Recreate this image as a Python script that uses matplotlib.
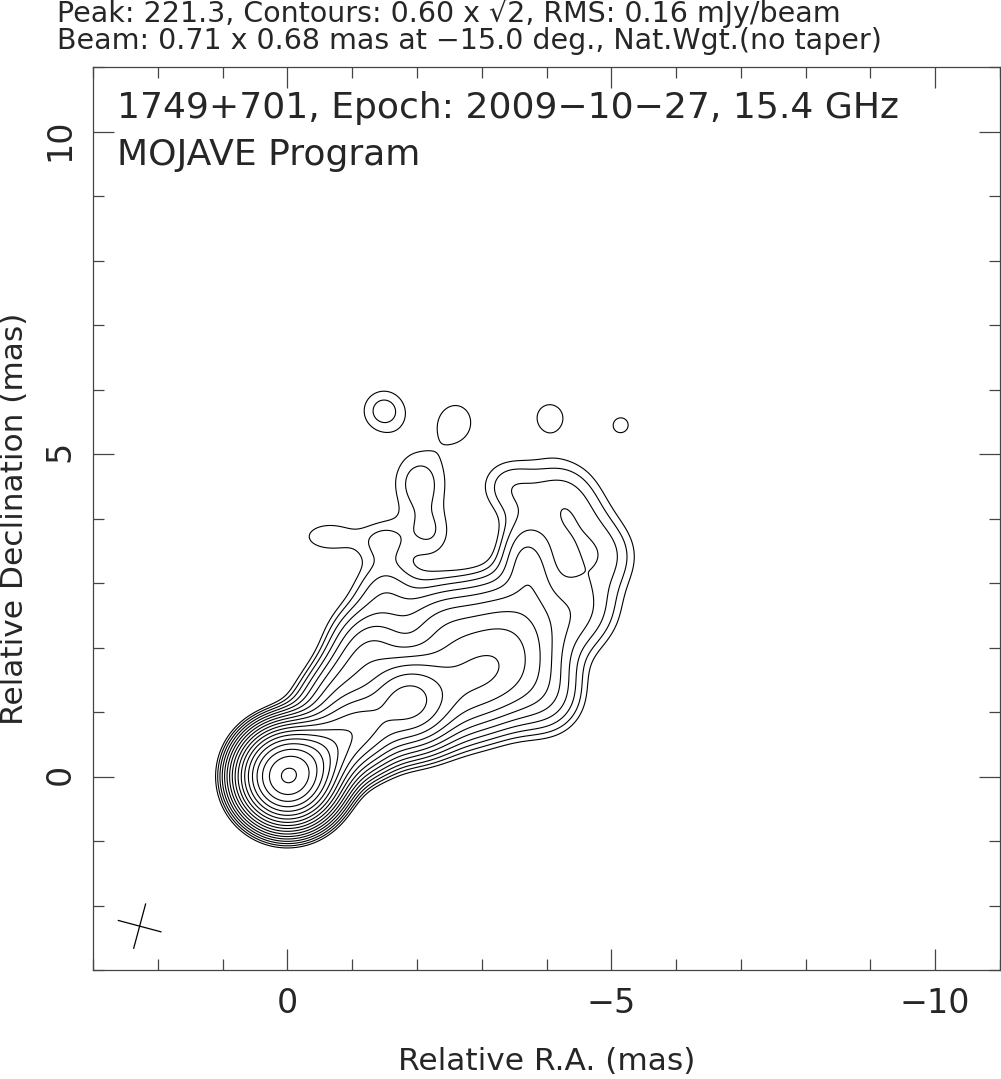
import numpy as np
import matplotlib
matplotlib.use("Agg")
import matplotlib.pyplot as plt
from matplotlib.ticker import MultipleLocator

# map header values
source = "1749+701"
epoch = "2009-10-27"
freq_ghz = 15.4
peak = 221.3          # mJy/beam
base_level = 0.60     # mJy/beam
rms = 0.16
beam_maj, beam_min, beam_pa = 0.71, 0.68, -15.0

# clean map described as gaussian blobs (already convolved with the beam)
# offsets in mas, peak in mJy/beam, FWHM in mas, PA in deg
blob_ra = [0.0, -0.45, -1.1, -1.85, -2.9, -3.4, -2.4, -3.7, -4.5, -4.4,
           -3.4, -4.0, -1.5, -2.04, -2.2, -0.65, -1.5,
           -0.9, -1.25, -4.2, -4.9,
           -1.49, -2.6, -4.05, -5.15]
blob_dec = [0.0, 0.3, 0.75, 1.15, 1.5, 2.3, 2.3, 3.3, 2.6, 3.8,
            4.5, 1.2, 2.9, 4.55, 3.75, 3.72, 3.65,
            1.5, 2.1, 4.4, 3.4,
            5.67, 5.5, 5.58, 5.45]
blob_peak = [215.0, 40.0, 18.0, 20.0, 9.0, 4.0, 3.0, 2.2, 1.6, 1.1,
             0.9, 1.5, 1.2, 1.0, 0.7, 0.75, 0.7,
             4.0, 2.5, 1.0, 0.95,
             0.98, 0.78, 0.72, 0.64]
blob_maj = [0.76, 0.9, 0.8, 0.9, 1.6, 1.2, 1.0, 1.0, 1.0, 1.1,
            0.8, 0.9, 0.8, 1.0, 0.7, 1.1, 0.6,
            1.4, 0.9, 1.0, 0.9,
            0.72, 0.8, 0.7, 0.7]
blob_min = [0.76, 0.7, 0.8, 0.9, 1.1, 1.2, 1.0, 0.6, 1.0, 1.1,
            0.8, 0.9, 0.8, 0.85, 0.7, 0.6, 0.6,
            0.7, 0.9, 1.0, 0.9,
            0.72, 0.72, 0.7, 0.7]
blob_pa = [0, -57, 0, 0, -70, 0, 0, 10, 0, 0,
           0, 0, 0, 0, 0, 90, 0,
           -45, 0, 0, 0,
           0, 0, 0, 0]

n_levels = 18

x = np.linspace(3, -11, 701)
y = np.linspace(-3, 11, 701)
X, Y = np.meshgrid(x, y)

img = np.zeros_like(X)
for ra, dec, p, a, b, pa in zip(blob_ra, blob_dec, blob_peak, blob_maj, blob_min, blob_pa):
    t = np.radians(pa)
    dx = X - ra
    dy = Y - dec
    u = dx * np.sin(t) + dy * np.cos(t)    # along major axis
    v = dx * np.cos(t) - dy * np.sin(t)
    img += p * np.exp(-4 * np.log(2) * ((u / a) ** 2 + (v / b) ** 2))

levels = base_level * np.sqrt(2) ** np.arange(n_levels)

plt.rcParams['font.family'] = ['DejaVu Sans']
txtc = '#262626'

fig = plt.figure(figsize=(10.01, 10.79), dpi=100)
ax = fig.add_axes([93 / 1001, 1 - 970 / 1079, 907 / 1001, 903 / 1079])
ax.contour(X, Y, img, levels=levels, colors='k', linewidths=0.8)
ax.set_xlim(3, -11)
ax.set_ylim(-3, 11)

# beam cross
for length, pa in [(beam_maj, beam_pa), (beam_min, beam_pa + 90)]:
    p = np.radians(pa)
    bx, by = 2.28, -2.32
    dx, dy = 0.5 * length * np.sin(p), 0.5 * length * np.cos(p)
    ax.plot([bx - dx, bx + dx], [by - dy, by + dy], color='k', lw=0.9)

ax.xaxis.set_major_locator(MultipleLocator(5))
ax.xaxis.set_minor_locator(MultipleLocator(1))
ax.yaxis.set_major_locator(MultipleLocator(5))
ax.yaxis.set_minor_locator(MultipleLocator(1))
ax.tick_params(which='both', direction='in', top=True, right=True,
               color='#444444', width=0.9)
ax.tick_params(which='major', length=15, labelsize=24, labelcolor=txtc, pad=12)
ax.tick_params(which='minor', length=8)
ax.tick_params(axis='y', labelrotation=90)
for sp in ax.spines.values():
    sp.set_color('#444444')
    sp.set_linewidth(0.9)

ax.set_xlabel('Relative R.A. (mas)', fontsize=22.5, color=txtc, labelpad=20)
ax.set_ylabel('Relative Declination (mas)', fontsize=22.5, color=txtc, labelpad=10)

ax.text(0.026, 0.955, f'{source}, Epoch: {epoch.replace("-", chr(8722))}, {freq_ghz} GHz',
        transform=ax.transAxes, fontsize=26, color=txtc, va='center')
ax.text(0.026, 0.903, 'MOJAVE Program',
        transform=ax.transAxes, fontsize=26, color=txtc, va='center')

fig.text(57 / 1001, 1 - 14 / 1079,
         f'Peak: {peak}, Contours: {base_level:.2f} x \u221a2, RMS: {rms} mJy/beam',
         fontsize=20.5, color=txtc, va='center')
fig.text(57 / 1001, 1 - 41 / 1079,
         f'Beam: {beam_maj} x {beam_min} mas at \u2212{abs(beam_pa):.1f} deg., Nat.Wgt.(no taper)',
         fontsize=20.5, color=txtc, va='center')

fig.savefig('out.png', dpi=100)
